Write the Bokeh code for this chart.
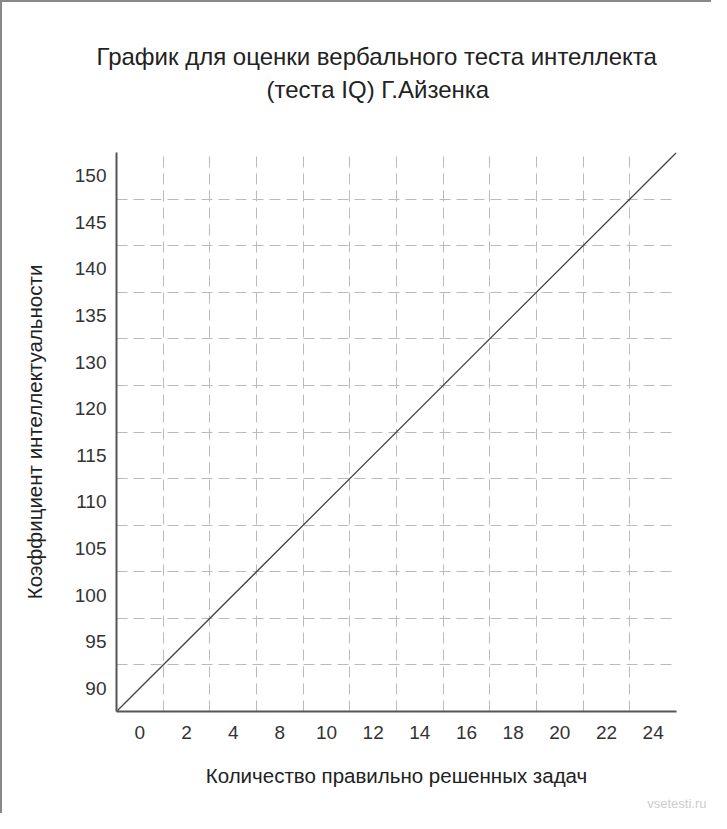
from bokeh.plotting import figure
from bokeh.models import Range1d, FixedTicker, Title
from bokeh.embed import file_html
from bokeh.resources import INLINE

# --- data ---
x_tick_labels = ["0", "2", "4", "8", "10", "12", "14", "16", "18", "20", "22", "24"]
y_tick_labels = ["90", "95", "100", "105", "110", "115", "120", "130", "135", "140", "145", "150"]
line_x = [0, 12]   # grid-cell units: from lower-left corner
line_y = [0, 12]   # to upper-right corner
title_lines = ["График для оценки вербального теста интеллекта", "(теста IQ) Г.Айзенка"]
x_title = "Количество правильно решенных задач"
y_title = "Коэффициент интеллектуальности"
watermark = "vsetesti.ru"

FONT = "Liberation Sans"

p = figure(width=711, height=813, output_backend="svg", toolbar_location=None,
           x_range=Range1d(0, len(x_tick_labels)), y_range=Range1d(0, len(y_tick_labels)),
           min_border_left=114, min_border_right=37, min_border_top=150, min_border_bottom=10)
p.outline_line_color = None
p.background_fill_color = "white"
p.border_fill_color = "white"

p.line(line_x, line_y, line_color="#444444", line_width=1.3)

# axes
xt = [i + 0.5 for i in range(len(x_tick_labels))]
yt = [i + 0.5 for i in range(len(y_tick_labels))]
p.xaxis.ticker = FixedTicker(ticks=xt, minor_ticks=[])
p.yaxis.ticker = FixedTicker(ticks=yt, minor_ticks=[])
p.xaxis.major_label_overrides = {t: l for t, l in zip(xt, x_tick_labels)}
p.yaxis.major_label_overrides = {t: l for t, l in zip(yt, y_tick_labels)}
for ax in (p.xaxis, p.yaxis):
    ax.major_tick_in = 0
    ax.major_tick_out = 0
    ax.minor_tick_in = 0
    ax.minor_tick_out = 0
    ax.axis_line_color = "#555555"
    ax.axis_line_width = 2
    ax.major_label_text_font = FONT
    ax.major_label_text_font_size = "19px"
    ax.major_label_text_color = "#333333"
    ax.axis_label_text_font = FONT
    ax.axis_label_text_font_size = "20.5px"
    ax.axis_label_text_font_style = "normal"
    ax.axis_label_text_color = "#222222"
p.xaxis.axis_label = x_title
p.yaxis.axis_label = y_title
p.xaxis.major_label_standoff = 14
p.yaxis.major_label_standoff = 10
p.xaxis.axis_label_standoff = 22
p.yaxis.axis_label_standoff = 26

# grid
p.xgrid.ticker = FixedTicker(ticks=list(range(len(x_tick_labels) + 1)))
p.ygrid.ticker = FixedTicker(ticks=list(range(len(y_tick_labels) + 1)))
for g in (p.xgrid, p.ygrid):
    g.grid_line_color = "#bbbbbb"
    g.grid_line_width = 1
    g.grid_line_dash = "11 6"

# blank spacer directly above the plot area (added first = nearest the frame)
p.add_layout(Title(text=" ", standoff=44, text_font_size="2px", text_color="white"), "above")
# second title line
p.add_layout(Title(text=title_lines[1], align="left", offset=150, text_font=FONT,
                   text_font_size="24px", text_font_style="normal", text_color="#222222",
                   standoff=4), "above")
# first title line (p.title is always the outermost)
p.title.text = title_lines[0]
p.title.align = "left"
p.title.offset = -20
p.title.text_font = FONT
p.title.text_font_size = "24px"
p.title.text_font_style = "normal"
p.title.text_color = "#222222"
p.title.standoff = 4

p.add_layout(Title(text=watermark, align="right", offset=-30, text_font=FONT,
                   text_font_size="13px", text_font_style="normal", text_color="#cccccc",
                   standoff=9), "below")

p.styles = {"border-left": "2px solid #888888", "border-top": "2px solid #888888"}

open("out.html", "w").write(file_html(p, INLINE))
